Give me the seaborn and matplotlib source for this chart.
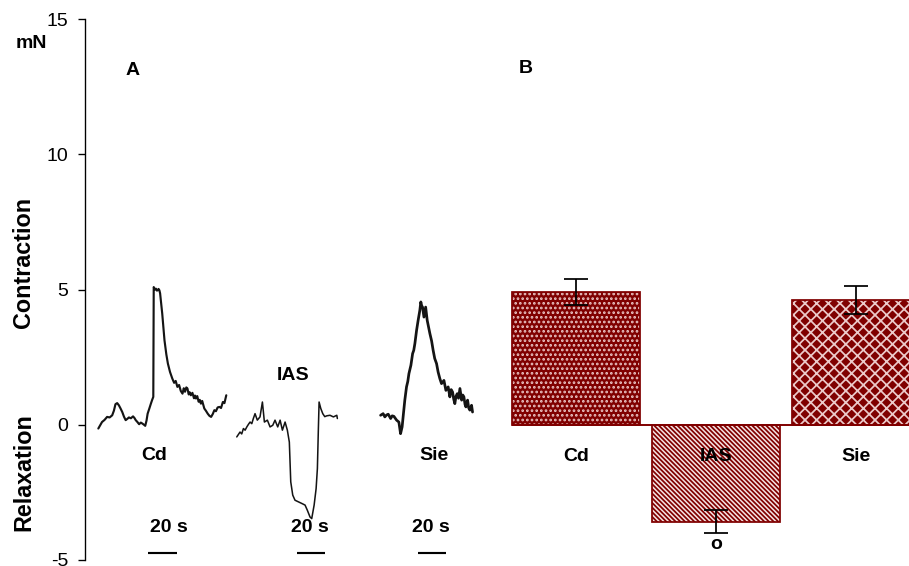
import matplotlib
matplotlib.use("Agg")
import matplotlib.pyplot as plt
import seaborn as sns

# ---------------------------------------------------------------
# Panel A: representative force recordings (time in s, force in mN)
# ---------------------------------------------------------------
cd_time = [0.0, 2.6, 4.4, 6.2, 8.0, 9.8, 11.0, 12.1, 13.3, 14.5, 15.7, 16.9, 18.1, 19.3,
           20.5, 21.6, 23.0, 24.5, 25.5, 26.4, 27.6, 28.8, 30.0, 31.2, 32.2, 33.1, 34.0,
           34.8, 36.0, 37.1, 38.0, 38.8, 39.1, 40.0, 40.7, 41.3, 41.9, 42.5, 43.1, 43.6,
           45.1, 46.7, 48.0, 49.1, 50.6, 52.2, 53.5, 54.6, 55.8, 57.0, 58.2, 59.4, 60.3,
           61.2, 62.1, 62.9, 63.8, 64.5, 65.3, 66.4, 67.5, 68.2, 68.9, 69.8, 70.8, 71.6,
           72.4, 73.3, 74.8, 75.9, 77.2, 78.4, 79.6, 80.8, 81.9, 83.0, 84.2, 85.5, 86.6,
           87.9, 89.0, 90.3]
cd_force = [-0.14, 0.10, 0.18, 0.29, 0.27, 0.35, 0.52, 0.76, 0.80, 0.72, 0.60, 0.47, 0.30,
            0.17, 0.22, 0.27, 0.24, 0.31, 0.25, 0.17, 0.10, 0.02, 0.08, 0.04, 0.00, -0.04,
            0.15, 0.41, 0.60, 0.78, 0.92, 1.03, 5.09, 5.00, 5.03, 4.96, 4.97, 5.02, 4.97,
            4.86, 4.11, 3.12, 2.60, 2.26, 1.95, 1.71, 1.55, 1.62, 1.40, 1.47, 1.25, 1.15,
            1.35, 1.22, 1.38, 1.34, 1.12, 1.20, 1.09, 1.18, 0.98, 1.08, 0.97, 1.06, 0.85,
            0.92, 0.78, 0.88, 0.60, 0.52, 0.41, 0.33, 0.29, 0.40, 0.54, 0.50, 0.64, 0.66,
            0.62, 0.84, 0.80, 1.09]

ias_time = [1.2, 3.5, 4.7, 5.9, 7.1, 8.3, 9.5, 10.6, 11.8, 12.9, 14.1, 15.7, 17.6, 19.3,
            20.7, 22.8, 24.7, 26.6, 28.2, 30.1, 31.8, 33.4, 35.3, 36.9, 38.3, 38.8, 39.3,
            40.7, 42.3, 44.7, 47.1, 49.4, 51.0, 52.9, 54.1, 55.8, 57.2, 58.1, 58.8, 59.3,
            60.5, 61.9, 63.3, 64.7, 67.0, 69.4, 71.8, 72.2]
ias_force = [-0.45, -0.27, -0.34, -0.14, -0.20, -0.08, 0.02, 0.10, 0.04, 0.23, 0.41, 0.17,
             0.29, 0.84, 0.10, 0.17, -0.08, -0.02, 0.17, -0.08, 0.17, -0.20, 0.10, -0.20,
             -0.64, -1.37, -2.11, -2.60, -2.79, -2.85, -2.91, -2.97, -3.16, -3.41, -3.47,
             -2.97, -2.36, -1.62, -0.14, 0.84, 0.60, 0.41, 0.30, 0.33, 0.35, 0.29, 0.35, 0.23]

sie_time = [0.0, 1.8, 3.0, 4.2, 5.4, 7.1, 8.2, 9.4, 11.3, 12.9, 14.1, 15.2, 15.9, 17.1,
            18.3, 19.2, 20.0, 21.4, 22.6, 23.4, 24.2, 25.4, 26.5, 27.7, 28.4, 29.0, 29.6,
            30.6, 31.8, 32.9, 34.8, 36.0, 37.1, 38.2, 39.5, 40.6, 41.8, 43.0, 44.7, 46.1,
            47.7, 48.9, 49.8, 50.8, 51.6, 52.4, 53.2, 54.1, 55.0, 56.0, 57.2, 58.0, 58.8,
            59.6, 60.2, 61.4, 62.2, 63.0, 64.2, 64.9]
sie_force = [0.35, 0.41, 0.29, 0.36, 0.39, 0.23, 0.33, 0.31, 0.17, 0.10, -0.33, -0.08, 0.29,
             0.91, 1.40, 1.60, 1.89, 2.20, 2.63, 2.75, 3.00, 3.49, 3.86, 4.23, 4.54, 4.40,
             4.35, 3.98, 4.35, 3.86, 3.37, 3.10, 2.75, 2.45, 2.26, 1.95, 1.71, 1.52, 1.64,
             1.27, 1.40, 1.03, 1.30, 1.21, 0.95, 0.78, 1.05, 1.15, 0.98, 1.34, 0.91, 1.10,
             1.03, 0.75, 0.66, 0.91, 0.62, 0.54, 0.72, 0.47]

trace_names = ["Cd", "IAS", "Sie"]
scale_bar_seconds = 20

# ---------------------------------------------------------------
# Panel B: mean response per region (mN) with SEM
# ---------------------------------------------------------------
regions = ["Cd", "IAS", "Sie"]
mean_force = [4.90, -3.58, 4.62]
sem_force = [0.48, 0.44, 0.51]
y_ticks = [-5, 0, 5, 10, 15]

# ---------------------------------------------------------------
# Style
# ---------------------------------------------------------------
sns.set_theme(style="white")
plt.rcParams["font.family"] = ["Liberation Sans", "DejaVu Sans"]
plt.rcParams["axes.unicode_minus"] = False
plt.rcParams["hatch.linewidth"] = 0.9
plt.rcParams["text.color"] = "black"
plt.rcParams["ytick.color"] = "black"
plt.rcParams["ytick.labelcolor"] = "black"

DARK_RED = "#800000"
PALE = "#f6e4e4"
DOT = "#e9c2c2"
INK = "#141414"

DPI = 140
fig = plt.figure(figsize=(909 / DPI, 566 / DPI), dpi=DPI)
fig.patch.set_facecolor("white")

y_lim = (-5, 15)
ax_bottom, ax_height = 6 / 566, 541 / 566
px_per_s = 1.417

ax_a = fig.add_axes([85 / 909, ax_bottom, 415 / 909, ax_height])
ax_b = fig.add_axes([500 / 909, ax_bottom, 409 / 909, ax_height], sharey=ax_a)
for ax in (ax_a, ax_b):
    ax.set_facecolor("none")
    for side in ("top", "right", "bottom", "left"):
        ax.spines[side].set_visible(False)

# ---------------- Panel A ----------------
ax_a.set_xlim(0, 415 / px_per_s)
ax_a.set_ylim(*y_lim)
ax_a.spines["left"].set_visible(True)
ax_a.spines["left"].set_linewidth(0.7)
ax_a.spines["left"].set_color("black")
ax_a.set_yticks(y_ticks)
ax_a.set_yticklabels([str(t) for t in y_ticks], fontsize=10, color="black")
ax_a.tick_params(axis="y", direction="out", length=3.6, width=0.7, color="black",
                 pad=5, left=True)
ax_a.set_xticks([])
ax_a.set_xlabel("")
ax_a.set_ylabel("")

traces = [
    (cd_time, cd_force, 9.4, 1.1),
    (ias_time, ias_force, 105.9, 0.8),
    (sie_time, sie_force, 208.6, 1.4),
]
for (t, f, start, lw) in traces:
    sns.lineplot(x=[start + v for v in t], y=f, ax=ax_a, color=INK, linewidth=lw,
                 estimator=None, sort=False, legend=False)

label_style = dict(fontsize=10, fontweight="bold", color="black",
                   ha="center", va="center")
# trace labels
for name, (tx, ty) in zip(trace_names, [(48.7, -1.15), (146.8, 1.83), (246.6, -1.15)]):
    ax_a.text(tx, ty, name, **label_style)

# 20 s time-scale bars under each trace
for bar_start, text_x in [(44.7, 59.3), (149.4, 158.8), (234.8, 244.2)]:
    ax_a.hlines(-4.74, bar_start, bar_start + scale_bar_seconds, color="black",
                linewidth=1.1)
    ax_a.text(text_x, -3.79, f"{scale_bar_seconds} s", **label_style)

ax_a.text(33.9, 13.1, "A", **label_style)

# ---------------- Panel B ----------------
sns.barplot(x=regions, y=mean_force, ax=ax_b, color=DARK_RED, width=0.914,
            errorbar=None, saturation=1)

styles = [
    dict(face=DARK_RED, hatch_color=DOT, hatch="....."),
    dict(face=PALE, hatch_color=DARK_RED, hatch="\\" * 10),
    dict(face=DARK_RED, hatch_color="#eccaca", hatch="xxxx"),
]
for patch, st in zip(ax_b.patches, styles):
    patch.set_facecolor(st["face"])
    patch.set_edgecolor(st["hatch_color"])
    patch.set_hatch(st["hatch"])
    patch.set_linewidth(0)

positions = list(range(len(regions)))
ax_b.bar(positions, mean_force, width=0.914, fill=False, edgecolor=DARK_RED,
         linewidth=0.9, zorder=3)
ax_b.hlines(0, -0.457, 2.6, color=DARK_RED, linewidth=1.0, zorder=4)
ax_b.errorbar(positions, mean_force, yerr=sem_force, fmt="none", ecolor="black",
              elinewidth=0.9, capsize=6, capthick=0.9, zorder=5)

ax_b.set_xlim(-0.543, 2.379)
ax_b.set_ylim(*y_lim)
ax_b.set_xticks([])
ax_b.set_xlabel("")
ax_b.set_ylabel("")
ax_b.tick_params(axis="y", left=False, labelleft=False)

for pos, name in zip(positions, regions):
    ax_b.text(pos, -1.16, name, zorder=6, **label_style)
ax_b.text(positions[1], -4.41, "o", zorder=6, **label_style)
ax_b.text(-0.357, 13.17, "B", **label_style)

# ---------------- Figure-level labels ----------------
fig.text(31 / 909, 1 - 43.5 / 566, "mN", fontsize=10, fontweight="bold",
         ha="center", va="center")
fig.text(24 / 909, 1 - 262 / 566, "Contraction", fontsize=12, fontweight="bold",
         rotation=90, ha="center", va="center")
fig.text(24 / 909, 1 - 472 / 566, "Relaxation", fontsize=12, fontweight="bold",
         rotation=90, ha="center", va="center")

fig.savefig("out.png", dpi=DPI, facecolor="white")
